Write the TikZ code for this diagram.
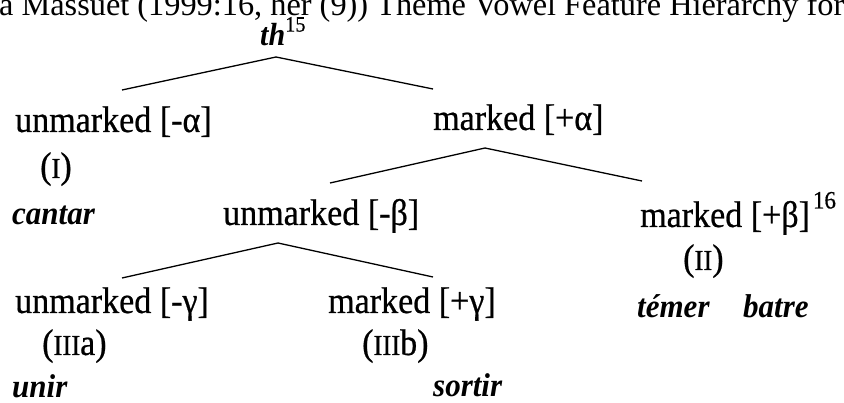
\documentclass[tikz,border=0pt]{standalone}
\usepackage{fontspec}
\setmainfont{Liberation Serif}[FakeStretch=0.92, FakeBold=0.6]
\newfontfamily\capfont{Liberation Serif}
\newfontfamily\exfont{Liberation Serif}[FakeStretch=0.94]
% roman numerals set slightly smaller, in the manner of small capitals
\newcommand\romnum[1]{{\fontsize{29}{32}\selectfont #1}}
% raised index numbers
\newcommand\idx[1]{\raisebox{0.5em}{\fontsize{25}{28}\selectfont #1}}
\begin{document}
\begin{tikzpicture}[x=1pt,y=-1pt,
  lbl/.style={anchor=base west, inner sep=0pt, font=\fontsize{37}{42}\selectfont},
  ex/.style={anchor=base west, inner sep=0pt, font=\exfont\fontsize{33}{38}\selectfont\bfseries\itshape},
  branch/.style={line width=1.3pt}]
\useasboundingbox (0,0) rectangle (844,403);

% running line of the page above the tree
\node[anchor=base west, inner sep=0pt] (caption) at (-1,16)
  {\resizebox{845pt}{!}{\capfont a Massuet (1999:16, her (9)) Theme Vowel Feature Hierarchy for}};

% root
\node[ex, font=\exfont\fontsize{32}{36}\selectfont\bfseries\itshape] (th) at (260,46)
  {th\normalfont\raisebox{0.45em}{\fontsize{22}{25}\selectfont 15}};

% first split: alpha
\node[lbl] (ua) at (15,132) {unmarked [-α]};
\node[lbl] (I) at (40,178) {(\romnum{I})};
\node[ex]  (cantar) at (12,225) {cantar};
\node[lbl] (ma) at (433,130) {marked [+α]};

% second split: beta
\node[lbl] (ub) at (223,225) {unmarked [-β]};
\node[lbl] (mb) at (640,227) {marked [+β]\hspace{3pt}\idx{16}};
\node[lbl] (II) at (683,270) {(\romnum{II})};
\node[ex]  (temer) at (637,318) {témer};
\node[ex]  (batre) at (743,318) {batre};

% third split: gamma
\node[lbl] (uc) at (15,313) {unmarked [-γ]};
\node[lbl] (mc) at (328,313) {marked [+γ]};
\node[lbl] (IIIa) at (42,355) {(\romnum{III}a)};
\node[lbl] (IIIb) at (362,355) {(\romnum{III}b)};
\node[ex]  (unir) at (12,398) {unir};
\node[ex]  (sortir) at (433,397) {sortir};

% branching points and branch ends
\coordinate (th-j) at (276,57);
\coordinate (ua-t) at (122,90);
\coordinate (ma-t) at (433,89);
\coordinate (ma-j) at (485,148);
\coordinate (ub-t) at (330,183);
\coordinate (mb-t) at (642,181);
\coordinate (ub-j) at (278,243);
\coordinate (uc-t) at (122,278);
\coordinate (mc-t) at (433,277);

\draw[branch] (ua-t) -- (th-j) -- (ma-t);
\draw[branch] (ub-t) -- (ma-j) -- (mb-t);
\draw[branch] (uc-t) -- (ub-j) -- (mc-t);
\end{tikzpicture}
\end{document}
